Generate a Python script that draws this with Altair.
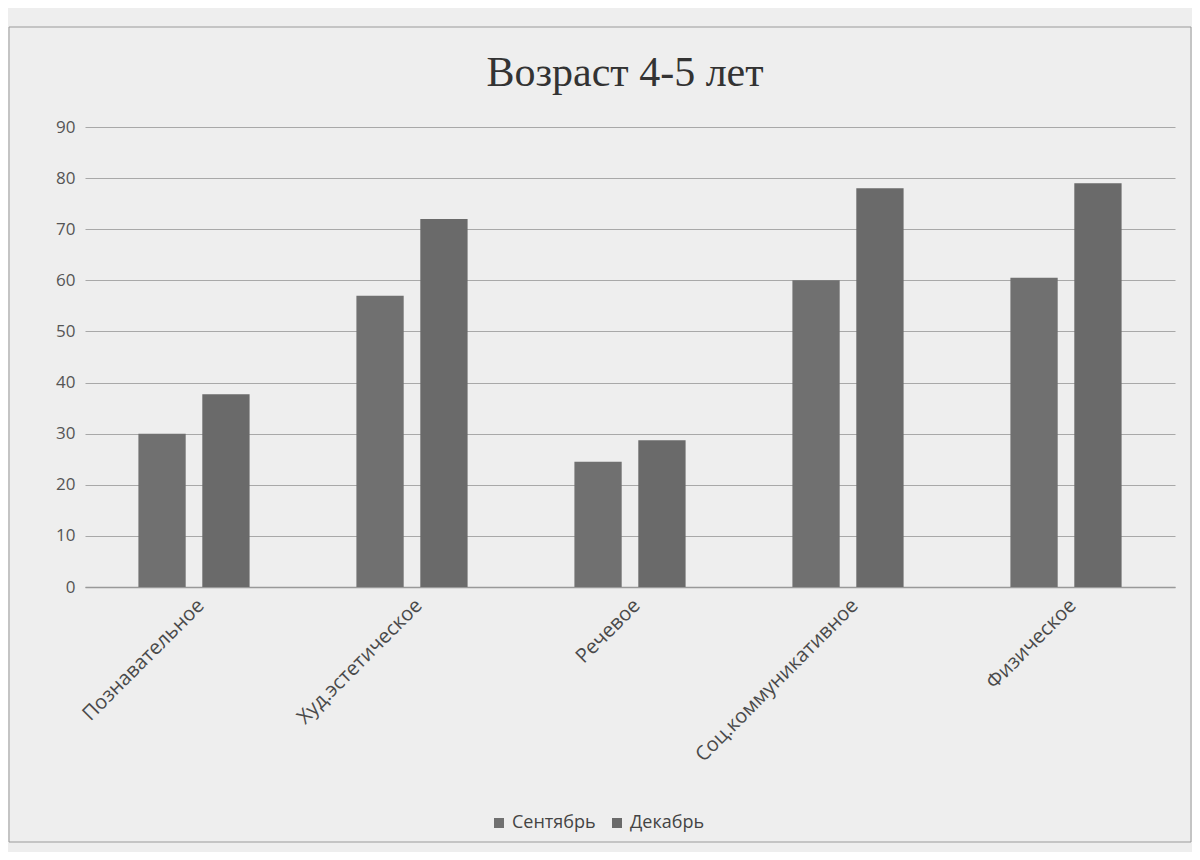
import altair as alt
import pandas as pd

title_text = "Возраст 4-5 лет"
categories = ["Познавательное", "Худ.эстетическое", "Речевое", "Соц.коммуникативное", "Физическое"]
series_names = ["Сентябрь", "Декабрь"]
september = [30, 57, 24.5, 60, 60.5]
december = [37.7, 72, 28.7, 78, 79]
y_ticks = [0, 10, 20, 30, 40, 50, 60, 70, 80, 90]

rows = []
for c, s, d in zip(categories, september, december):
    rows.append({"cat": c, "series": series_names[0], "value": s})
    rows.append({"cat": c, "series": series_names[1], "value": d})
df = pd.DataFrame(rows)

W, H = 1090, 460

bars = alt.Chart(df).mark_bar().encode(
    x=alt.X("cat:N", sort=categories, title=None,
            scale=alt.Scale(paddingInner=0.49, paddingOuter=0.245),
            axis=alt.Axis(labelAngle=-45, labelFontSize=20, labelColor="#4a4a4a",
                          labelFont="Open Sans", labelLimit=500, ticks=False,
                          domainColor="#999999", domainWidth=1.5, labelPadding=8,
                          grid=False)),
    xOffset=alt.XOffset("series:N", sort=series_names,
                        scale=alt.Scale(paddingInner=0.26)),
    y=alt.Y("value:Q", title=None,
            scale=alt.Scale(domain=[0, 90], nice=False),
            axis=alt.Axis(values=y_ticks, labelFontSize=17, labelColor="#555555",
                          labelFont="Open Sans", ticks=False, domain=False,
                          gridColor="#a8a8a8", gridWidth=1.2, labelPadding=10)),
    color=alt.Color("series:N", sort=series_names,
                    scale=alt.Scale(domain=series_names, range=["#707070", "#6a6a6a"]),
                    legend=alt.Legend(title=None, orient="none", direction="horizontal",
                                      legendX=405, legendY=687, symbolType="square",
                                      symbolSize=100, labelFontSize=18, labelFont="Open Sans",
                                      labelColor="#444444", columnPadding=12)),
)

frame = alt.Chart(pd.DataFrame({"k": [0]})).mark_rect(
    fill=None, stroke="#9a9a9a", strokeWidth=1
).encode(
    x=alt.value(-76), x2=alt.value(W + 16),
    y=alt.value(-100), y2=alt.value(H + 255),
)

title = alt.Chart(pd.DataFrame({"t": [title_text]})).mark_text(
    font="Liberation Serif", fontSize=42, color="#333333", align="center", baseline="alphabetic"
).encode(
    text="t:N", x=alt.value(540), y=alt.value(-41),
)

chart = alt.layer(frame, title, bars).properties(
    width=W, height=H,
    autosize=alt.AutoSizeParams(type="none"),
    padding={"left": 77, "top": 119, "right": 17, "bottom": 265},
    background="#eeeeee",
).configure_view(stroke=None)

chart.save("out.html", embed_options={"renderer": "svg", "actions": False})
